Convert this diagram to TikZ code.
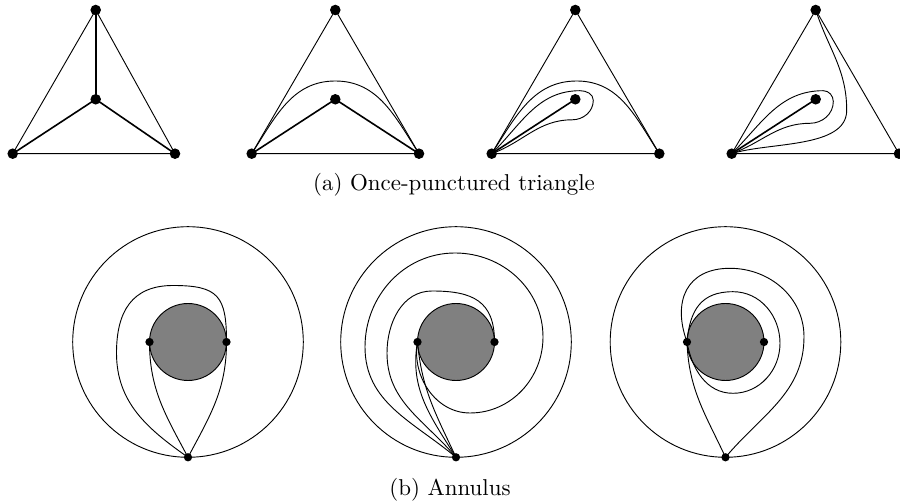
\documentclass[tikz,border=0pt]{standalone}
\usetikzlibrary{calc}

\begin{document}
\begin{tikzpicture}[
    x=0.436pt, y=0.436pt,
    vtx/.style={circle, fill, inner sep=0pt, minimum size=4.6pt},
    apt/.style={circle, fill, inner sep=0pt, minimum size=3.6pt},
    spoke/.style={line width=0.7pt},
    hole/.style={draw, fill=gray},
    subcap/.style={font=\normalsize}
  ]
  \useasboundingbox (0,0) rectangle (900,503);

  % (a) the four triangulations
  \foreach \i/\xa/\xb/\xt in {1/12.7/175/95.7, 2/251.7/419/335.3,
                              3/491.7/659.3/575.3, 4/731.7/899/815.7} {
    \node[vtx] (a\i) at (\xa,349.3) {};
    \node[vtx] (b\i) at (\xb,349.3) {};
    \node[vtx] (t\i) at (\xt,493) {};
    \node[vtx] (c\i) at (\xt,403.7) {};
    \draw (a\i.center) -- (b\i.center) -- (t\i.center) -- cycle;
    \draw[spoke] (a\i.center) -- (c\i.center);
  }

  \draw[spoke] (c1.center) -- (t1.center);
  \draw[spoke] (c1.center) -- (b1.center);

  \draw[spoke] (c2.center) -- (b2.center);
  \draw (a2.center) to[out=57,in=180] ($(c2)+(0,18.3)$)
                    to[out=0,in=123] (b2.center);

  \draw (a3.center) to[out=57,in=180] ($(c3)+(1.4,18.3)$)
                    to[out=0,in=123] (b3.center);
  \draw (a3.center) to[out=45,in=180] ($(c3)+(4.7,8.6)$)
                    to[out=0,in=90] ($(c3)+(18,-1)$)
                    to[out=-90,in=0] ($(c3)+(-3,-20.5)$)
                    to[out=180,in=20] (a3.center);

  \draw (a4.center) to[out=45,in=180] ($(c4)+(7.6,8.6)$)
                    to[out=0,in=90] ($(c4)+(17.6,-2.3)$)
                    to[out=-90,in=0] ($(c4)+(-5.7,-24)$)
                    to[out=180,in=20] (a4.center);
  \draw (a4.center) to[out=18,in=-90,looseness=0.8] ($(c4)+(31,-11)$)
                    to[out=90,in=-72] (t4.center);

  \node[subcap] (capa) at (454,318) {(a) Once-punctured triangle};

  % (b) the three annuli
  \foreach \i/\cx in {1/188, 2/456, 3/725.5} {
    \coordinate (o\i) at (\cx,161);
    \draw (o\i) circle (115.3);
    \draw[hole] (o\i) circle (38.5);
    \node[apt] (l\i) at ($(o\i)+(-38.5,0)$) {};
    \node[apt] (r\i) at ($(o\i)+(38.5,0)$) {};
    \node[apt] (p\i) at ($(o\i)+(0,-115.3)$) {};
  }

  \draw (p1.center) to[out=118,in=-90] (l1.center);
  \draw (p1.center) to[out=62,in=-90] (r1.center);
  \draw (p1.center) to[out=145,in=-90] ($(o1)+(-71.5,-11)$)
                    to[out=90,in=180,looseness=1.2] ($(o1)+(-15,56.5)$)
                    to[out=0,in=90,looseness=1.5] (r1.center);

  \draw (p2.center) to[out=140,in=-90] ($(o2)+(-91,-5)$)
                    to[out=90,in=180] ($(o2)+(-1,89)$)
                    to[out=0,in=90] ($(o2)+(87,5)$)
                    to[out=-90,in=0] ($(o2)+(14,-71)$)
                    to[out=180,in=-100] (l2.center);
  \draw (p2.center) to[out=130,in=-90] ($(o2)+(-69,-11)$)
                    to[out=90,in=180] ($(o2)+(-24,51)$)
                    to[out=0,in=90,looseness=1.3] (r2.center);
  \draw (p2.center) to[out=122,in=-100] (l2.center);
  \draw (p2.center) to[out=115,in=-85] (l2.center);

  \draw (l3.center) to[out=85,in=180,looseness=1.2] ($(o3)+(7.5,50.3)$)
                    to[out=0,in=90] ($(o3)+(54.5,-1.3)$)
                    to[out=-90,in=0] ($(o3)+(7.5,-51.3)$)
                    to[out=180,in=-80] (l3.center);
  \draw (l3.center) to[out=110,in=180,looseness=1.3] ($(o3)+(4.5,73.7)$)
                    to[out=0,in=90] ($(o3)+(78.5,5.3)$)
                    to[out=-90,in=50] (p3.center);
  \draw (l3.center) to[out=-88,in=115] (p3.center);

  \node[subcap] (capb) at (450,13) {(b) Annulus};
\end{tikzpicture}
\end{document}
